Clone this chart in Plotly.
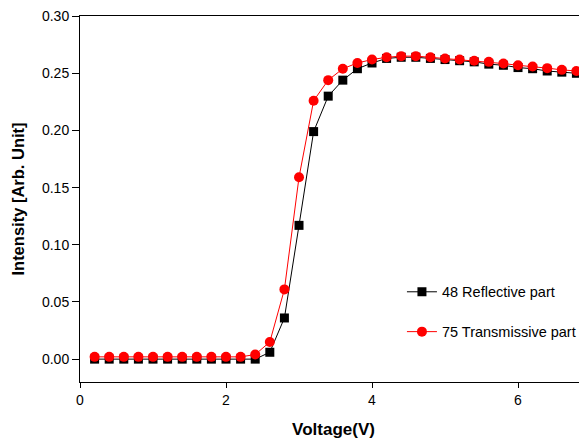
import plotly.graph_objects as go

voltage = [round(0.2 * i, 1) for i in range(1, 36)]
reflective = [0.000, 0.000, 0.000, 0.000, 0.000, 0.000, 0.000, 0.000, 0.000, 0.000, 0.000, 0.000,
              0.006, 0.036, 0.117, 0.199, 0.230, 0.244, 0.254, 0.259, 0.263, 0.264, 0.264, 0.263,
              0.262, 0.261, 0.260, 0.258, 0.257, 0.255, 0.254, 0.252, 0.251, 0.250, 0.249]
transmissive = [0.002, 0.002, 0.002, 0.002, 0.002, 0.002, 0.002, 0.002, 0.002, 0.002, 0.002, 0.004,
                0.015, 0.061, 0.159, 0.226, 0.244, 0.254, 0.259, 0.262, 0.264, 0.265, 0.265, 0.264,
                0.263, 0.262, 0.261, 0.260, 0.2585, 0.257, 0.256, 0.2545, 0.253, 0.252, 0.251]
x_ticks = [0, 2, 4, 6]
y_ticks = [0.00, 0.05, 0.10, 0.15, 0.20, 0.25, 0.30]

fig = go.Figure()
fig.add_trace(go.Scatter(
    x=voltage, y=reflective, mode="lines+markers", name="48 Reflective part",
    legendgroup="a",
    line=dict(color="black", width=1),
    marker=dict(symbol="square", size=9, color="black"),
))
fig.add_trace(go.Scatter(
    x=voltage, y=transmissive, mode="lines+markers", name="75 Transmissive part",
    legendgroup="b",
    line=dict(color="red", width=1),
    marker=dict(symbol="circle", size=10, color="red"),
))

fam = "Liberation Sans, Arial, sans-serif"
fig.update_layout(
    width=579, height=431,
    margin=dict(l=72, r=0, t=8, b=55),
    paper_bgcolor="white", plot_bgcolor="white",
    font=dict(family=fam, size=14, color="black"),
    showlegend=True,
    legend=dict(x=0.635, y=0.29, xanchor="left", yanchor="top",
                bgcolor="rgba(0,0,0,0)", tracegroupgap=18,
                font=dict(family=fam, size=14.5, color="black")),
    xaxis=dict(
        range=[0, 6.945], tickvals=x_ticks, ticktext=[str(v) for v in x_ticks],
        showgrid=False, zeroline=False, showline=True, linecolor="black", linewidth=1,
        mirror=True, ticks="outside", ticklen=5, tickcolor="black",
        tickfont=dict(size=14),
        title=dict(text="<b>Voltage(V)</b>", font=dict(size=17), standoff=19),
    ),
    yaxis=dict(
        range=[-0.02, 0.3001], tickvals=y_ticks, ticktext=[f"{v:.2f}" for v in y_ticks],
        showgrid=False, zeroline=False, showline=True, linecolor="black", linewidth=1,
        mirror=False, ticks="outside", ticklen=7, tickcolor="black",
        tickfont=dict(size=14),
        title=dict(text="<b>Intensity [Arb. Unit]</b>", font=dict(size=16.5), standoff=13),
    ),
)
fig.write_html("out.html")
